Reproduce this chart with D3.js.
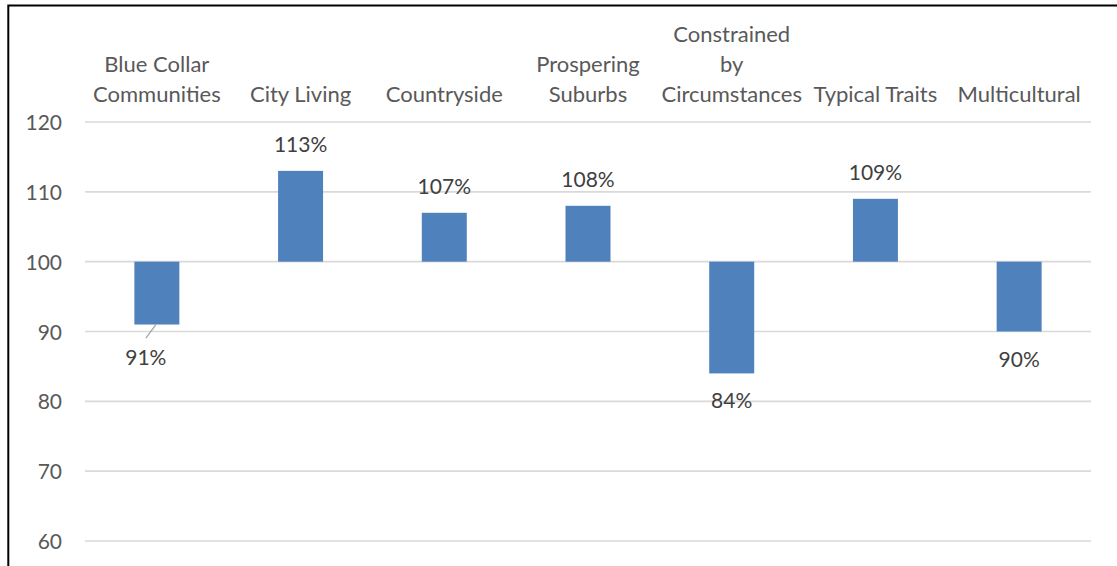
<!DOCTYPE html>
<html>
<head>
<meta charset="utf-8">
<script src="https://cdn.jsdelivr.net/npm/d3@7"></script>
<style>
  html, body { margin: 0; padding: 0; background: #fff; }
  svg { display: block; }
  text { font-family: "Lato", "Liberation Sans", sans-serif; }
</style>
</head>
<body>
<svg id="chart" width="1117" height="566"></svg>
<script>
// Segment index values (100 = average)
const categories = [
  ["Blue Collar", "Communities"],
  ["City Living"],
  ["Countryside"],
  ["Prospering", "Suburbs"],
  ["Constrained", "by", "Circumstances"],
  ["Typical Traits"],
  ["Multicultural"]
];
const values = [91, 113, 107, 108, 84, 109, 90];
const yTicks = [60, 70, 80, 90, 100, 110, 120];
const baseline = 100;

const W = 1117, H = 566;
const plot = { left: 85, right: 1091, top: 122, bottom: 541 };

const svg = d3.select("#chart");

// Frame (left and top edges visible)
svg.append("path")
  .attr("d", `M8.3,${H} L8.3,5.5 L${W},5.5`)
  .attr("fill", "none")
  .attr("stroke", "#000")
  .attr("stroke-width", 2);

const x = d3.scaleBand()
  .domain(categories.map((c, i) => i))
  .range([plot.left, plot.right])
  .padding(0);

const y = d3.scaleLinear()
  .domain([60, 120])
  .range([plot.bottom, plot.top]);

const barW = x.bandwidth() * 0.313;

// Gridlines
svg.append("g")
  .selectAll("line")
  .data(yTicks)
  .join("line")
  .attr("x1", plot.left)
  .attr("x2", plot.right)
  .attr("y1", d => y(d))
  .attr("y2", d => y(d))
  .attr("stroke", "#d9d9d9")
  .attr("stroke-width", 1.6);

// Y axis labels
const yAxis = d3.axisLeft(y).tickValues(yTicks).tickSize(0).tickPadding(23);
const yg = svg.append("g")
  .attr("transform", `translate(${plot.left},0)`)
  .call(yAxis);
yg.select(".domain").remove();
yg.selectAll("text")
  .attr("font-size", 21)
  .attr("fill", "#595959")
  .attr("font-family", "Lato, 'Liberation Sans', sans-serif")
  .attr("dy", "0.36em");

// Category labels along the top, bottom-aligned
const catG = svg.append("g");
categories.forEach((lines, i) => {
  const cx = x(i) + x.bandwidth() / 2;
  const t = catG.append("text")
    .attr("text-anchor", "middle")
    .attr("font-size", 22)
    .attr("fill", "#595959");
  lines.forEach((ln, j) => {
    t.append("tspan")
      .attr("x", cx)
      .attr("y", 102 - (lines.length - 1 - j) * 30)
      .text(ln);
  });
});

// Bars drawn from the 100 baseline
svg.append("g")
  .selectAll("rect")
  .data(values)
  .join("rect")
  .attr("x", (d, i) => x(i) + x.bandwidth() / 2 - barW / 2)
  .attr("width", barW)
  .attr("y", d => y(Math.max(d, baseline)))
  .attr("height", d => Math.abs(y(d) - y(baseline)))
  .attr("fill", "#4f81bd");

// Data labels; the first one is pulled out with a leader line
const movedLabel = { index: 0, dx: -11, dy: 40 };
const labelG = svg.append("g");
values.forEach((v, i) => {
  const cx = x(i) + x.bandwidth() / 2;
  let lx = cx, ly;
  if (v >= baseline) {
    ly = y(v) - 18.5;
  } else {
    ly = y(v) + 35;
  }
  if (i === movedLabel.index) {
    lx = cx + movedLabel.dx;
    ly = y(v) + movedLabel.dy;
    labelG.append("line")
      .attr("x1", cx - 1)
      .attr("y1", y(v))
      .attr("x2", lx)
      .attr("y2", y(v) + 13.5)
      .attr("stroke", "#a6a6a6")
      .attr("stroke-width", 1.3);
  }
  labelG.append("text")
    .attr("x", lx)
    .attr("y", ly)
    .attr("text-anchor", "middle")
    .attr("font-size", 21)
    .attr("fill", "#404040")
    .text(v + "%");
});
</script>
</body>
</html>
